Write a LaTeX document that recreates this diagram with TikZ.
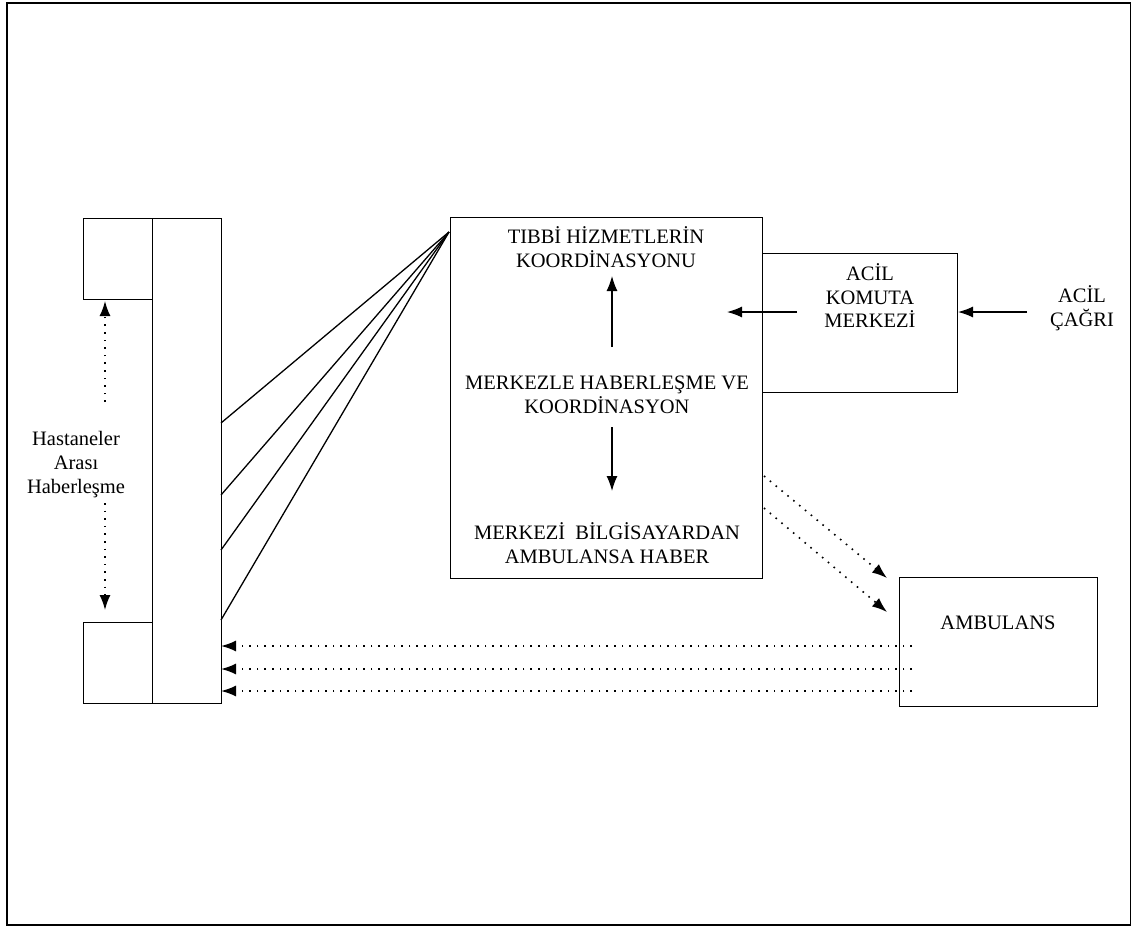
\documentclass[tikz,border=0pt]{standalone}
\usepackage{fontspec}
\setmainfont{Liberation Serif}
\usetikzlibrary{arrows.meta}
\begin{document}
\begin{tikzpicture}[x=1pt,y=-1pt,
  frame/.style={draw=black,line width=1.4pt,inner sep=0pt,anchor=north west},
  lbl/.style={align=center,inner sep=0pt,font=\fontsize{20.5}{24}\selectfont},
  solidarrow/.style={line width=1.3pt,-{Latex[length=15pt,width=11pt]}},
  dotarrow/.style={line width=1.6pt,dash pattern={on 1.6pt off 6pt},-{Latex[length=15pt,width=11pt]}},
  fanline/.style={line width=1.3pt}]
\useasboundingbox (0,0) rectangle (1132,929);
% outer frame
\draw[line width=2.6pt] (1130.5,3) -- (7,3) -- (7,925) -- (1130.5,925);
\draw[line width=1pt] (1130.5,3) -- (1130.5,925);

% boxes
\node[frame,minimum width=312pt,minimum height=361pt] (central) at (450,217) {};
\node[frame,minimum width=195pt,minimum height=139pt] (acil) at (762,253) {};
\node[frame,minimum width=69pt,minimum height=485pt] (tall) at (152,218) {};
\node[frame,minimum width=69pt,minimum height=81pt] (upper) at (83,218) {};
\node[frame,minimum width=69pt,minimum height=81pt] (lower) at (83,622) {};
\node[frame,minimum width=198pt,minimum height=129pt] (amb) at (899,577) {};

% texts
\node[lbl] (t1) at (606,247) {TIBBİ HİZMETLERİN\\KOORDİNASYONU};
\node[lbl] (t2) at (607,395) {MERKEZLE HABERLEŞME VE\\KOORDİNASYON};
\node[lbl] (t3) at (607,543) {MERKEZİ~~BİLGİSAYARDAN\\AMBULANSA HABER};
\node[lbl,font=\fontsize{20.5}{23.5}\selectfont] (t4) at (870,296) {ACİL\\KOMUTA\\MERKEZİ};
\node[lbl,font=\fontsize{20.5}{23.5}\selectfont] (t5) at (1082,308) {ACİL\\ÇAĞRI};
\node[lbl] (t6) at (76,465) {Hastaneler\\Arası\\Haberleşme};
\node[lbl] (t7) at (998,623) {AMBULANS};

% coordinates
\coordinate (upS) at (612,347);
\coordinate (upE) at (612,276);
\coordinate (dnS) at (612,427);
\coordinate (dnE) at (612,491);
\coordinate (kS) at (797,312);
\coordinate (kE) at (727,312);
\coordinate (cS) at (1027,312);
\coordinate (cE) at (958,312);
\coordinate (corner) at (449,232);
\foreach \i/\y in {1/423,2/495,3/550,4/620} {\coordinate (f\i) at (221,\y);}
\coordinate (hA) at (105,402);
\coordinate (hAe) at (105,301);
\coordinate (hB) at (105,503);
\coordinate (hBe) at (105,610);
\coordinate (d1S) at (764,476);
\coordinate (d1E) at (887,578);
\coordinate (d2S) at (764,508);
\coordinate (d2E) at (887,612);
\foreach \i/\y in {1/646,2/669,3/691} {\coordinate (r\i S) at (912,\y); \coordinate (r\i E) at (221,\y);}

% arrows inside
\draw[solidarrow] (upS) -- (upE);
\draw[solidarrow] (dnS) -- (dnE);
\draw[solidarrow] (kS) -- (kE);
\draw[solidarrow] (cS) -- (cE);

% fan lines
\foreach \i in {1,...,4} {\draw[fanline] (f\i) -- (corner);}

% hospital dotted arrows
\draw[dotarrow] (hA) -- (hAe);
\draw[dotarrow] (hB) -- (hBe);

% dotted to ambulance
\draw[dotarrow] (d1S) -- (d1E);
\draw[dotarrow] (d2S) -- (d2E);

% dotted from ambulance to hospital
\foreach \i in {1,2,3} {\draw[dotarrow] (r\i S) -- (r\i E);}
\end{tikzpicture}
\end{document}
